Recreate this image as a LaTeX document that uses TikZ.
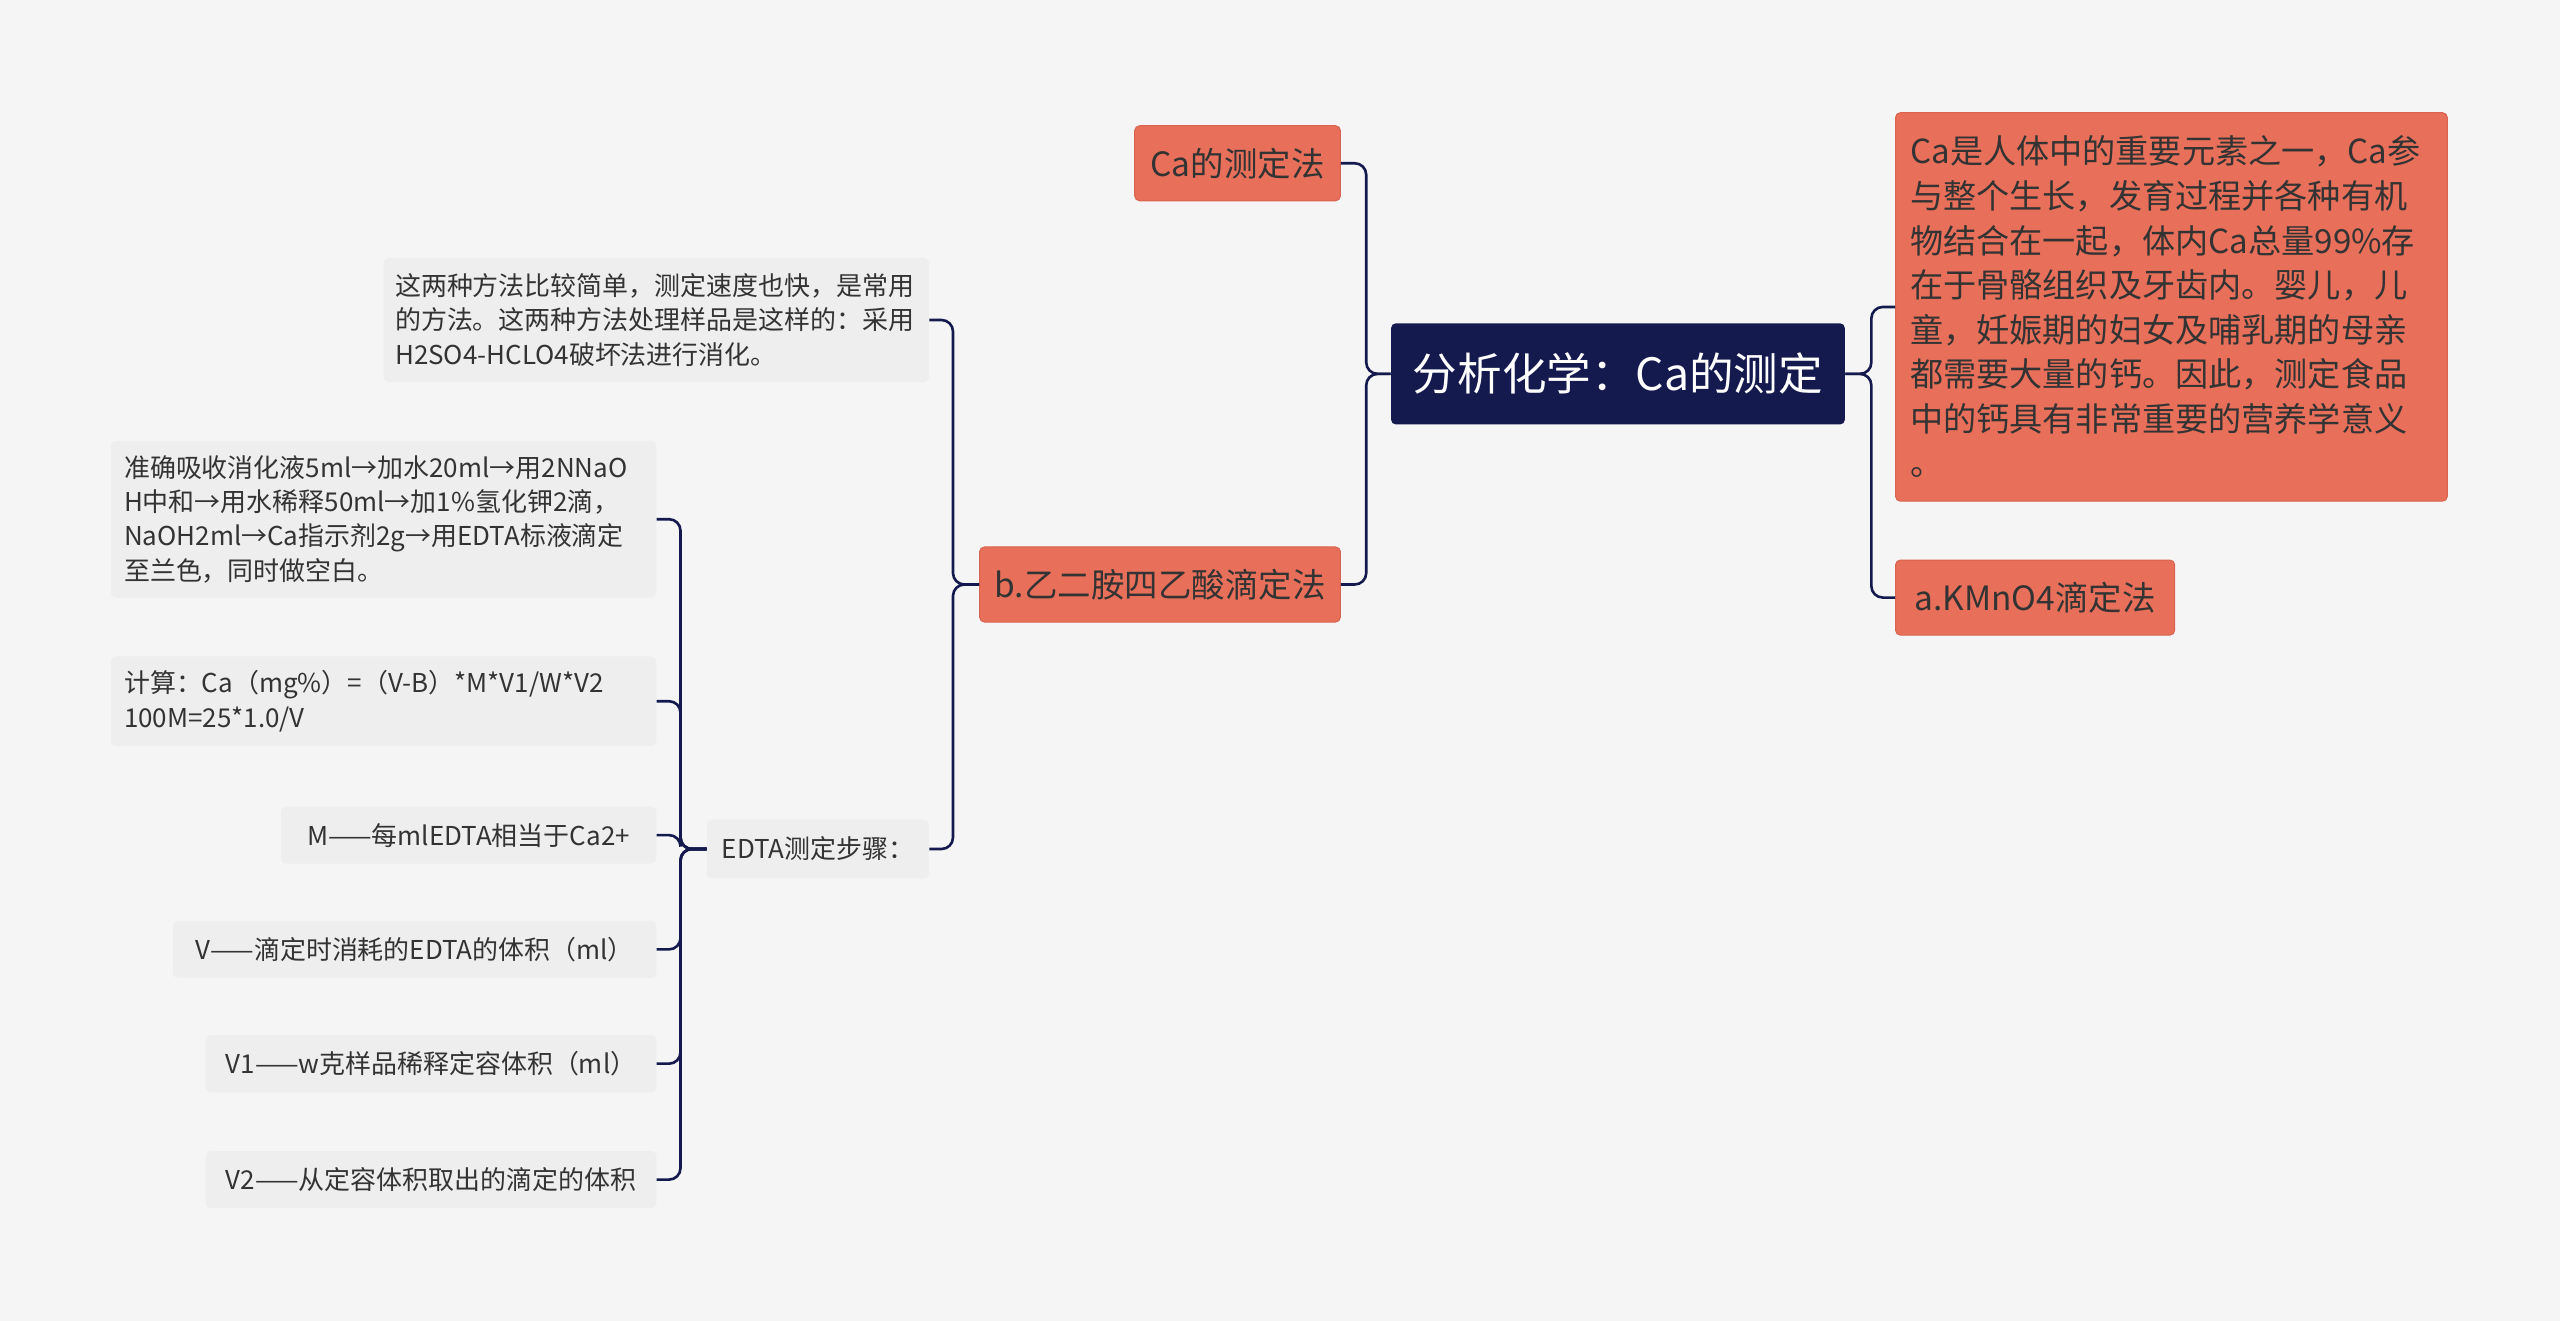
\documentclass[tikz,border=0pt]{standalone}
\usepackage{fontspec}
\setmainfont{Noto Sans CJK SC}
\begin{document}
\begin{tikzpicture}[x=1pt,y=-1pt,
  conn/.style={draw=navyc,line width=1.6pt,rounded corners=7pt},
  red/.style={fill=redc,rounded corners=3pt,inner sep=0pt,text=textc,font=\fontsize{20.5}{24}\selectfont,draw=redd,line width=0.6pt},
  gray/.style={fill=grayc,rounded corners=3pt,inner sep=0pt,text=textc,font=\fontsize{15.9}{21}\selectfont,align=left}]
\definecolor{navyc}{HTML}{141A4E}
\definecolor{redc}{HTML}{E8705A}
\definecolor{redd}{HTML}{D9634E}
\definecolor{grayc}{HTML}{EEEEEE}
\definecolor{textc}{HTML}{333333}
\definecolor{bgc}{HTML}{F5F5F5}
\fill[bgc] (0,0) rectangle (1568,809);
\useasboundingbox (0,0) rectangle (1568,809);
\node[fill=navyc,rounded corners=3pt,text=white,minimum width=278,minimum height=62,font=\fontsize{27.3}{30}\selectfont] (root) at (991,229) {分析化学：Ca的测定};
\node[red,minimum width=126,minimum height=46] (ca) at (758,100) {Ca的测定法};
\node[red,minimum width=221,minimum height=46] (b) at (710.5,358) {b.乙二胺四乙酸滴定法};
\node[red,minimum width=338,minimum height=238,align=left,text width=320,font=\fontsize{20.3}{27.3}\selectfont] (big) at (1330,188) {Ca是人体中的重要元素之一，Ca参\\与整个生长，发育过程并各种有机\\物结合在一起，体内Ca总量99\%存\\在于骨骼组织及牙齿内。婴儿，儿\\童，妊娠期的妇女及哺乳期的母亲\\都需要大量的钙。因此，测定食品\\中的钙具有非常重要的营养学意义\\。};
\node[red,minimum width=171,minimum height=46] (a) at (1246.5,366) {a.KMnO4滴定法};
\node[gray,minimum width=334,minimum height=76,text width=320] (g1) at (402,196) {这两种方法比较简单，测定速度也快，是常用\\的方法。这两种方法处理样品是这样的：采用\\H2SO4-HCLO4破坏法进行消化。};
\node[gray,minimum width=136,minimum height=36] (edta) at (501,520) {EDTA测定步骤：};
\node[gray,minimum width=334,minimum height=96,text width=318] (s1) at (235,318) {准确吸收消化液5ml→加水20ml→用2NNaO\\H中和→用水稀释50ml→加1\%氢化钾2滴，\\NaOH2ml→Ca指示剂2g→用EDTA标液滴定\\至兰色，同时做空白。};
\node[gray,minimum width=334,minimum height=55,text width=318] (s2) at (235,429.5) {计算：Ca（mg\%）=（V-B）*M*V1/W*V2\\100M=25*1.0/V};
\node[gray,minimum width=230,minimum height=35] (s3) at (287,511.5) {M——每mlEDTA相当于Ca2+};
\node[gray,minimum width=296,minimum height=35] (s4) at (254,581.5) {V——滴定时消耗的EDTA的体积（ml）};
\node[gray,minimum width=276,minimum height=35] (s5) at (264,651.5) {V1——w克样品稀释定容体积（ml）};
\node[gray,minimum width=276,minimum height=35] (s6) at (264,722.5) {V2——从定容体积取出的滴定的体积};
\foreach \n in {ca,b} \draw[conn] (root.west) -- ++(-15,0) |- (\n.east);
\foreach \n in {big,a} \draw[conn] (root.east) -- ++(16,0) |- (\n.west);
\foreach \n in {g1,edta} \draw[conn] (b.west) -- ++(-16,0) |- (\n.east);
\foreach \n in {s1,s2,s3,s4,s5,s6} \draw[conn] (edta.west) -- ++(-16,0) |- (\n.east);
\end{tikzpicture}
\end{document}
